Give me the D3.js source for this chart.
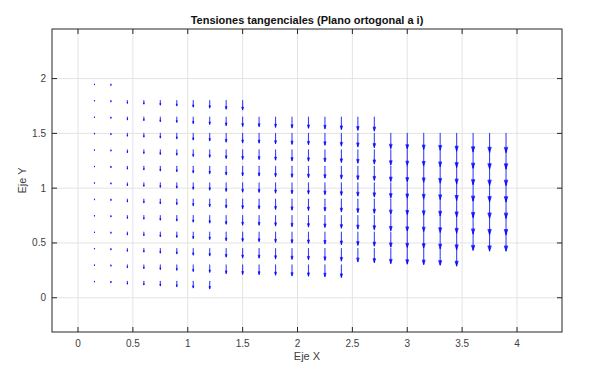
<!DOCTYPE html>
<html><head><meta charset="utf-8">
<script src="https://cdn.jsdelivr.net/npm/d3@7"></script>
<style>body{margin:0;background:#fff}svg{display:block}</style>
</head><body>
<svg id="c" width="600" height="371"></svg>
<script>
// ---- data ----
const xColumns = [0.15,0.30,0.45,0.60,0.75,0.90,1.05,1.20,1.35,1.50,1.65,1.80,1.95,2.10,2.25,2.40,2.55,2.70,2.85,3.00,3.15,3.30,3.45,3.60,3.75,3.90];
const yRows    = [0.15,0.30,0.45,0.60,0.75,0.90,1.05,1.20,1.35,1.50,1.65,1.80,1.95];
const colBottom= [0.15,0.15,0.15,0.15,0.15,0.15,0.15,0.15,0.30,0.30,0.30,0.30,0.30,0.30,0.30,0.30,0.45,0.45,0.45,0.45,0.45,0.45,0.45,0.60,0.60,0.60];
const colTop   = [1.95,1.95,1.80,1.80,1.80,1.80,1.80,1.80,1.80,1.80,1.65,1.65,1.65,1.65,1.65,1.65,1.65,1.65,1.50,1.50,1.50,1.50,1.50,1.50,1.50,1.50];
// downward tangential stress component per column (arrow length, axis units)
const tauV     = [0.005,0.011,0.025,0.032,0.041,0.048,0.059,0.067,0.078,0.085,0.087,0.093,0.099,0.102,0.107,0.114,0.121,0.128,0.137,0.142,0.146,0.152,0.160,0.167,0.173,0.174];
const xTickVals = [0,0.5,1,1.5,2,2.5,3,3.5,4];
const yTickVals = [0,0.5,1,1.5,2];
const titleText = "Tensiones tangenciales (Plano ortogonal a i)";
const xLabel = "Eje X", yLabel = "Eje Y";

// ---- layout ----
const L=52, R=562, T=29, B=332;
const x = d3.scaleLinear().domain([-0.237, 4.41]).range([L, R]);
const y = d3.scaleLinear().domain([-0.3125, 2.4525]).range([B, T]);
const svg = d3.select("#c");
const font = "'Liberation Sans', Arial, Helvetica, sans-serif";
const axisCol = "#262626";

// grid
const g = svg.append("g");
g.selectAll(".gx").data(xTickVals).join("line")
  .attr("x1", d=>x(d)).attr("x2", d=>x(d)).attr("y1", T).attr("y2", B)
  .attr("stroke", "#e3e3e3").attr("stroke-width", 1);
g.selectAll(".gy").data(yTickVals).join("line")
  .attr("y1", d=>y(d)).attr("y2", d=>y(d)).attr("x1", L).attr("x2", R)
  .attr("stroke", "#e3e3e3").attr("stroke-width", 1);

// arrows
const pts = [];
xColumns.forEach((cx, i) => {
  yRows.forEach(ry => {
    if (ry >= colBottom[i] - 1e-9 && ry <= colTop[i] + 1e-9) pts.push({x: cx, y: ry, v: -tauV[i]});
  });
});
const ag = svg.append("g").attr("stroke", "#0000ff").attr("fill", "none")
  .attr("stroke-linecap", "round").attr("stroke-linejoin", "round");
pts.forEach(p => {
  const x0 = x(p.x), y0 = y(p.y), y1 = y(p.y + p.v);
  const len = y1 - y0;
  ag.append("line").attr("x1", x0).attr("y1", y0).attr("x2", x0).attr("y2", y1)
    .attr("stroke-width", 1.1).attr("stroke-opacity", 0.75);
  const hl = 0.25 * len, hw = 0.085 * len;
  ag.append("path")
    .attr("d", `M${x0-hw},${y1-hl}L${x0},${y1}L${x0+hw},${y1-hl}Z`)
    .attr("fill", "#0000ff").attr("fill-opacity", 0.8).attr("stroke-width", 0.9).attr("stroke-opacity", 0.75);
});

// axes box
svg.append("rect").attr("x", L).attr("y", T).attr("width", R-L).attr("height", B-T)
  .attr("fill", "none").attr("stroke", axisCol).attr("stroke-width", 1);

const tk = 5;
const tg = svg.append("g").attr("stroke", axisCol).attr("stroke-width", 1);
xTickVals.forEach(d => {
  tg.append("line").attr("x1", x(d)).attr("x2", x(d)).attr("y1", B).attr("y2", B-tk);
  tg.append("line").attr("x1", x(d)).attr("x2", x(d)).attr("y1", T).attr("y2", T+tk);
});
yTickVals.forEach(d => {
  tg.append("line").attr("y1", y(d)).attr("y2", y(d)).attr("x1", L).attr("x2", L+tk);
  tg.append("line").attr("y1", y(d)).attr("y2", y(d)).attr("x1", R).attr("x2", R-tk);
});

// tick labels
svg.selectAll(".xl").data(xTickVals).join("text")
  .attr("x", d=>x(d)).attr("y", B+15).attr("text-anchor", "middle")
  .attr("font-family", font).attr("font-size", 10).attr("fill", "#404040")
  .text(d=>d3.format("~g")(d));
svg.selectAll(".yl").data(yTickVals).join("text")
  .attr("x", L-6).attr("y", d=>y(d)+3.5).attr("text-anchor", "end")
  .attr("font-family", font).attr("font-size", 10).attr("fill", "#404040")
  .text(d=>d3.format("~g")(d));

// labels
svg.append("text").attr("x", (L+R)/2).attr("y", 360).attr("text-anchor", "middle")
  .attr("font-family", font).attr("font-size", 11).attr("fill", "#404040").text(xLabel);
svg.append("text").attr("transform", `translate(26,${(T+B)/2}) rotate(-90)`).attr("text-anchor", "middle")
  .attr("font-family", font).attr("font-size", 11).attr("fill", "#404040").text(yLabel);
svg.append("text").attr("x", (L+R)/2).attr("y", 24).attr("text-anchor", "middle")
  .attr("font-family", font).attr("font-size", 11).attr("font-weight", "bold").attr("fill", "#111").text(titleText);
</script>
</body></html>
